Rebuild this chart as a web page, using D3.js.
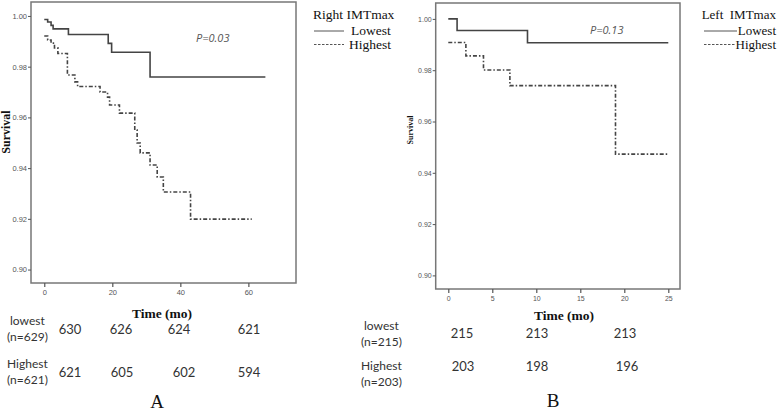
<!DOCTYPE html>
<html><head><meta charset="utf-8">
<script src="https://cdn.jsdelivr.net/npm/d3@7"></script>
<style>
body{margin:0;background:#fff;}
svg{display:block;}
</style></head>
<body>
<svg id="chart" width="778" height="412"></svg>
<script>
// ---------- data ----------
const yTicks = [0.90, 0.92, 0.94, 0.96, 0.98, 1.00];
const xTicksA = [0, 20, 40, 60];
const xTicksB = [0, 5, 10, 15, 20, 25];

const aLowTime  = [0, 1, 2, 2.6, 7.1, 18.8, 19.8, 31.1, 65];
const aLowSurv  = [0.9986, 0.9976, 0.9963, 0.9949, 0.9927, 0.9892, 0.9857, 0.9759, 0.9759];
const aHighTime = [0, 1, 2, 3, 4, 6.8, 9, 9.8, 16.4, 18.6, 19.2, 22.1, 26.6, 27.3, 28.2, 31.1, 33.2, 35, 43, 61];
const aHighSurv = [0.9921, 0.9905, 0.9893, 0.9874, 0.9852, 0.9767, 0.9740, 0.9722, 0.9700, 0.9680, 0.9649, 0.9617, 0.9550, 0.9499, 0.9460, 0.9412, 0.9365, 0.9306, 0.9199, 0.9199];

const bLowTime  = [0, 1, 9, 25];
const bLowSurv  = [1.0, 0.9955, 0.9907, 0.9907];
const bHighTime = [0, 2, 4, 7, 19, 25];
const bHighSurv = [0.9908, 0.9856, 0.9801, 0.9740, 0.9473, 0.9473];

const groups = ["Lowest", "Highest"];
const riskA_low  = [630, 626, 624, 621];
const riskA_high = [621, 605, 602, 594];
const riskB_low  = [215, 213, 213];
const riskB_high = [203, 198, 196];
const rowLabelsA = [["lowest", "(n=629)"], ["Highest", "(n=621)"]];
const rowLabelsB = [["lowest", "(n=215)"], ["Highest", "(n=203)"]];

// ---------- drawing ----------
const svg = d3.select("#chart");
const dashHigh = "4,2,1.5,2";

function panel(cfg) {
  const g = svg.append("g");
  const x = d3.scaleLinear().domain(cfg.xDomain).range(cfg.xRange);
  const y = d3.scaleLinear().domain(cfg.yDomain).range(cfg.yRange);

  g.append("rect")
    .attr("x", cfg.xRange[0]).attr("y", cfg.yRange[1])
    .attr("width", cfg.xRange[1] - cfg.xRange[0])
    .attr("height", cfg.yRange[0] - cfg.yRange[1])
    .attr("fill", "#fff").attr("stroke", "#777").attr("stroke-width", 1.5);

  const ya = g.append("g").attr("transform", `translate(${cfg.xRange[0]},0)`)
    .call(d3.axisLeft(y).tickValues(yTicks).tickFormat(d3.format(".2f")).tickSize(3).tickPadding(1));
  ya.select(".domain").remove();
  ya.selectAll("line").attr("stroke", "#555");
  ya.selectAll("text").attr("font-family", "Liberation Sans, Arial, sans-serif")
    .attr("font-size", cfg.tickFont).attr("fill", "#555");

  const xa = g.append("g").attr("transform", `translate(0,${cfg.yRange[0]})`)
    .call(d3.axisBottom(x).tickValues(cfg.xTicks).tickSize(4).tickPadding(3));
  xa.select(".domain").remove();
  xa.selectAll("line").attr("stroke", "#555").attr("stroke-width", 1.2);
  xa.selectAll("text").attr("font-family", "Liberation Sans, Arial, sans-serif")
    .attr("font-size", cfg.tickFont).attr("fill", "#555");

  const line = d3.line().curve(d3.curveStepAfter).x(d => x(d[0])).y(d => y(d[1]));
  g.append("path").datum(d3.zip(cfg.lowT, cfg.lowS)).attr("d", line)
    .attr("fill", "none").attr("stroke", "#444").attr("stroke-width", 1.6);
  g.append("path").datum(d3.zip(cfg.highT, cfg.highS)).attr("d", line)
    .attr("fill", "none").attr("stroke", "#444").attr("stroke-width", 1.6)
    .attr("stroke-dasharray", dashHigh);

  // axis titles
  g.append("text").attr("x", cfg.timeX).attr("y", cfg.timeY).attr("text-anchor", "middle")
    .attr("font-family", "Liberation Serif, Times New Roman, serif").attr("font-weight", "bold")
    .attr("font-size", 13.5).attr("fill", "#111").text("Time (mo)");
  g.append("text").attr("transform", `translate(${cfg.survX},${cfg.survY}) rotate(-90)`)
    .attr("text-anchor", "middle")
    .attr("font-family", "Liberation Serif, Times New Roman, serif").attr("font-weight", "bold")
    .attr("font-size", cfg.survFont).attr("fill", "#111").text("Survival");

  // p value
  g.append("text").attr("x", cfg.pX).attr("y", cfg.pY)
    .attr("font-family", "Open Sans, Liberation Sans, sans-serif").attr("font-style", "italic")
    .attr("font-size", 11).attr("fill", "#555").text(cfg.pText);

  // legend
  const lg = g.append("g").attr("font-family", "Liberation Serif, Times New Roman, serif")
    .attr("font-size", cfg.legFont).attr("fill", "#111");
  lg.append("text").attr("x", cfg.legTitleX).attr("y", 19)
    .attr("text-anchor", cfg.legAnchor).style("white-space", "pre").text(cfg.legTitle);
  groups.forEach((gname, i) => {
    const ly = 31 + i * 13.5;
    lg.append("line").attr("x1", cfg.legX + 1).attr("x2", cfg.legLineEnd[i])
      .attr("y1", ly).attr("y2", ly).attr("stroke", "#555").attr("stroke-width", 1)
      .attr("stroke-dasharray", i === 1 ? "2.5,1.5" : null);
    lg.append("text").attr("x", cfg.legTextX[i]).attr("y", ly + 4)
      .attr("text-anchor", cfg.legAnchor).text(gname);
  });

  // number at risk
  const rl = g.append("g").attr("font-family", "Lato, Open Sans, sans-serif").attr("fill", "#333").attr("font-size", 12);
  cfg.rowLabels.forEach((pair, i) => {
    rl.append("text").attr("x", cfg.rowLabelX + (i === 0 ? 3 : 0)).attr("y", cfg.rowY[i]).text(pair[0]);
    rl.append("text").attr("x", cfg.rowLabelX).attr("y", cfg.rowY[i] + 15.5).text(pair[1]);
  });
  [cfg.riskLow, cfg.riskHigh].forEach((arr, i) => {
    arr.forEach((v, j) => {
      rl.append("text").attr("x", cfg.riskX[i][j]).attr("y", cfg.riskY[i])
        .attr("text-anchor", "middle").attr("font-size", 13).text(v);
    });
  });

  g.append("text").attr("x", cfg.letterX).attr("y", cfg.letterY).attr("text-anchor", "middle")
    .attr("font-family", "Liberation Serif, Times New Roman, serif").attr("font-size", 19)
    .attr("fill", "#111").text(cfg.letter);
}

panel({
  xDomain: [-3.9, 74], xRange: [31, 296],
  yDomain: [0.8947, 1.0055], yRange: [283, 2],
  xTicks: xTicksA, tickFont: 7.5,
  lowT: aLowTime, lowS: aLowSurv, highT: aHighTime, highS: aHighSurv,
  timeX: 162, timeY: 318, survX: 10, survY: 132, survFont: 12,
  pX: 196, pY: 42, pText: "P=0.03",
  legX: 313, legTitleX: 313, legAnchor: "start", legFont: 13.5, legTitle: "Right IMTmax",
  legLineEnd: [344, 344], legTextX: [351, 349],
  rowLabels: rowLabelsA, rowLabelX: 7, rowY: [325, 368],
  riskLow: riskA_low, riskHigh: riskA_high,
  riskX: [[70, 121, 179, 249], [70, 122, 184, 249]], riskY: [334, 377],
  letter: "A", letterX: 157, letterY: 408
});

panel({
  xDomain: [-1.43, 26.33], xRange: [435.7, 680],
  yDomain: [0.8947, 1.0062], yRange: [289, 3],
  xTicks: xTicksB, tickFont: 7,
  lowT: bLowTime, lowS: bLowSurv, highT: bHighTime, highS: bHighSurv,
  timeX: 564, timeY: 320, survX: 413, survY: 130, survFont: 8,
  pX: 590, pY: 34, pText: "P=0.13",
  legX: 703, legTitleX: 776, legAnchor: "end", legFont: 13, legTitle: "Left  IMTmax",
  legLineEnd: [737, 735], legTextX: [776, 776],
  rowLabels: rowLabelsB, rowLabelX: 361, rowY: [330, 370],
  riskLow: riskB_low, riskHigh: riskB_high,
  riskX: [[462, 537, 625], [463, 537, 627]], riskY: [338, 371],
  letter: "B", letterX: 553, letterY: 407
});
</script>
</body></html>
